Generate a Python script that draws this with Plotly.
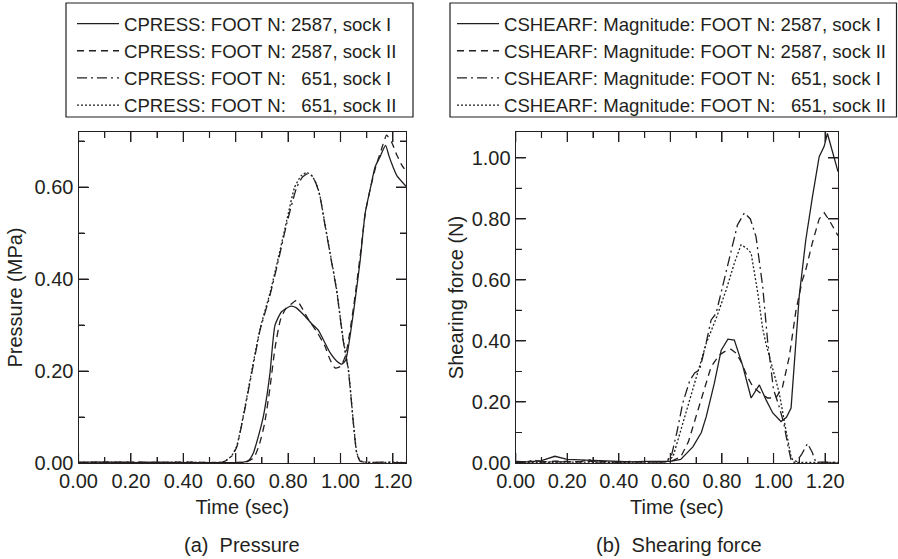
import plotly.graph_objects as go
from plotly.subplots import make_subplots

# ---- (a) Pressure (MPa) ----
t_p_2587_I = [0.0, 0.1, 0.2, 0.3, 0.4, 0.5, 0.6, 0.63, 0.65, 0.667, 0.686, 0.705, 0.72, 0.731, 0.75, 0.775,
              0.81, 0.83, 0.86, 0.89, 0.915, 0.94, 0.96, 0.985, 1.005, 1.02, 1.05, 1.075, 1.094, 1.115,
              1.132, 1.15, 1.172, 1.185, 1.195, 1.215, 1.25]
p_2587_I = [0.002, 0.002, 0.001, 0.002, 0.001, 0.001, 0.001, 0.002, 0.006, 0.021, 0.057, 0.10, 0.15, 0.196, 0.30, 0.329,
            0.341, 0.338, 0.322, 0.303, 0.289, 0.262, 0.240, 0.222, 0.215, 0.224, 0.33, 0.44, 0.543, 0.60,
            0.644, 0.665, 0.691, 0.668, 0.652, 0.625, 0.602]

t_p_2587_II = [0.0, 0.1, 0.2, 0.3, 0.4, 0.5, 0.6, 0.64, 0.67, 0.69, 0.71, 0.73, 0.75, 0.77, 0.79, 0.81, 0.833,
               0.85, 0.88, 0.91, 0.94, 0.96, 0.979, 1.0, 1.02, 1.05, 1.075, 1.095, 1.115, 1.135, 1.155,
               1.176, 1.195, 1.215, 1.234, 1.25]
p_2587_II = [0.001, 0.002, 0.002, 0.001, 0.002, 0.001, 0.001, 0.002, 0.012, 0.04, 0.085, 0.16, 0.25, 0.31, 0.335, 0.345, 0.354,
             0.34, 0.31, 0.285, 0.255, 0.225, 0.207, 0.21, 0.235, 0.34, 0.45, 0.545, 0.60, 0.645, 0.68,
             0.713, 0.698, 0.67, 0.648, 0.635]

t_p_651_I = [0.0, 0.1, 0.2, 0.3, 0.4, 0.5, 0.55, 0.566, 0.585, 0.604, 0.629, 0.661, 0.693, 0.731, 0.763, 0.795,
             0.833, 0.855, 0.877, 0.895, 0.909, 0.922, 0.94, 0.96, 0.985, 1.01, 1.03, 1.049, 1.062, 1.075,
             1.1, 1.15, 1.2, 1.25]
p_651_I = [0.001, 0.001, 0.002, 0.001, 0.001, 0.001, 0.002, 0.006, 0.015, 0.035, 0.10, 0.195, 0.289, 0.365, 0.441, 0.521,
           0.60, 0.622, 0.630, 0.622, 0.604, 0.579, 0.52, 0.456, 0.376, 0.267, 0.202, 0.087, 0.021, 0.004,
           0.001, 0.002, 0.001, 0.001]

t_p_651_II = [0.0, 0.1, 0.2, 0.3, 0.4, 0.5, 0.55, 0.566, 0.585, 0.604, 0.629, 0.661, 0.693, 0.731, 0.763, 0.795,
              0.825, 0.85, 0.872, 0.892, 0.909, 0.922, 0.94, 0.96, 0.985, 1.01, 1.03, 1.049, 1.062, 1.075,
              1.1, 1.15, 1.2, 1.25]
p_651_II = [0.001, 0.002, 0.001, 0.001, 0.002, 0.001, 0.002, 0.007, 0.016, 0.037, 0.103, 0.2, 0.292, 0.37, 0.447, 0.528,
            0.60, 0.625, 0.632, 0.624, 0.606, 0.58, 0.522, 0.458, 0.378, 0.27, 0.204, 0.09, 0.023, 0.005,
            0.002, 0.001, 0.002, 0.001]

# ---- (b) Shearing force (N) ----
t_s_2587_I = [0.0, 0.05, 0.1, 0.152, 0.2, 0.25, 0.3, 0.35, 0.4, 0.45, 0.5, 0.55, 0.6, 0.64, 0.687, 0.72, 0.739,
              0.77, 0.797, 0.823, 0.848, 0.88, 0.913, 0.945, 0.971, 0.997, 1.029, 1.05, 1.068, 1.10, 1.125,
              1.151, 1.177, 1.196, 1.209, 1.25]
s_2587_I = [0.005, 0.004, 0.008, 0.022, 0.012, 0.01, 0.008, 0.007, 0.005, 0.004, 0.005, 0.004, 0.005, 0.012, 0.053, 0.10, 0.152,
            0.26, 0.37, 0.406, 0.403, 0.32, 0.213, 0.256, 0.207, 0.164, 0.136, 0.15, 0.18, 0.55, 0.731,
            0.873, 1.004, 1.037, 1.08, 0.955]

t_s_2587_II = [0.0, 0.05, 0.1, 0.15, 0.2, 0.25, 0.3, 0.35, 0.4, 0.45, 0.5, 0.55, 0.6, 0.64, 0.67, 0.70, 0.73, 0.758,
               0.79, 0.81, 0.835, 0.855, 0.874, 0.90, 0.92, 0.95, 0.977, 1.009, 1.035, 1.061, 1.087, 1.112,
               1.125, 1.15, 1.177, 1.197, 1.22, 1.25]
s_2587_II = [0.003, 0.005, 0.004, 0.006, 0.005, 0.004, 0.006, 0.004, 0.003, 0.005, 0.004, 0.003, 0.005, 0.02, 0.07, 0.152, 0.24, 0.316,
             0.354, 0.365, 0.373, 0.36, 0.332, 0.28, 0.25, 0.228, 0.213, 0.213, 0.25, 0.348, 0.50, 0.60,
             0.633, 0.72, 0.80, 0.82, 0.79, 0.745]

t_s_651_I = [0.0, 0.04, 0.07, 0.1, 0.15, 0.2, 0.25, 0.28, 0.31, 0.35, 0.4, 0.45, 0.5, 0.55, 0.58, 0.603, 0.625, 0.648,
             0.675, 0.694, 0.713, 0.735, 0.758, 0.777, 0.80, 0.829, 0.86, 0.887, 0.91, 0.932, 0.958, 0.977,
             0.99, 1.0, 1.02, 1.04, 1.055, 1.068, 1.09, 1.11, 1.132, 1.15, 1.164, 1.2, 1.25]
s_651_I = [0.002, 0.003, 0.01, 0.003, 0.004, 0.003, 0.004, 0.012, 0.004, 0.003, 0.004, 0.003, 0.004, 0.003, 0.005, 0.02, 0.10, 0.197,
           0.27, 0.295, 0.305, 0.38, 0.469, 0.49, 0.57, 0.676, 0.78, 0.82, 0.80, 0.742, 0.578, 0.40,
           0.30, 0.24, 0.19, 0.13, 0.06, 0.01, 0.005, 0.03, 0.064, 0.035, 0.003, 0.002, 0.002]

t_s_651_II = [0.0, 0.1, 0.2, 0.3, 0.4, 0.5, 0.58, 0.61, 0.674, 0.739, 0.78, 0.816, 0.85, 0.874, 0.895, 0.913, 0.939,
              0.958, 0.971, 1.0, 1.022, 1.048, 1.068, 1.08, 1.15, 1.25]
s_651_II = [0.002, 0.003, 0.002, 0.003, 0.002, 0.003, 0.004, 0.02, 0.207, 0.392, 0.48, 0.567, 0.66, 0.715, 0.705, 0.688, 0.557,
            0.44, 0.39, 0.30, 0.23, 0.108, 0.02, 0.002, 0.002, 0.002]

# tick positions (major every 0.2, minor every 0.1)
x_tick_vals = [0.0, 0.1, 0.2, 0.3, 0.4, 0.5, 0.6, 0.7, 0.8, 0.9, 1.0, 1.1, 1.2]
y_tick_vals_p = [0.0, 0.1, 0.2, 0.3, 0.4, 0.5, 0.6, 0.7]
y_tick_vals_s = [0.0, 0.1, 0.2, 0.3, 0.4, 0.5, 0.6, 0.7, 0.8, 0.9, 1.0]

series_p = [
    ("CPRESS: FOOT N: 2587, sock I", t_p_2587_I, p_2587_I, "solid"),
    ("CPRESS: FOOT N: 2587, sock II", t_p_2587_II, p_2587_II, "7px,5px"),
    ("CPRESS: FOOT N:\u00a0\u00a0\u00a0651, sock I", t_p_651_I, p_651_I, "10px,4px,2px,4px"),
    ("CPRESS: FOOT N:\u00a0\u00a0\u00a0651, sock II", t_p_651_II, p_651_II, "2px,2px"),
]
series_s = [
    ("CSHEARF: Magnitude: FOOT N: 2587, sock I", t_s_2587_I, s_2587_I, "solid"),
    ("CSHEARF: Magnitude: FOOT N: 2587, sock II", t_s_2587_II, s_2587_II, "7px,5px"),
    ("CSHEARF: Magnitude: FOOT N:\u00a0\u00a0\u00a0651, sock I", t_s_651_I, s_651_I, "10px,4px,2px,4px"),
    ("CSHEARF: Magnitude: FOOT N:\u00a0\u00a0\u00a0651, sock II", t_s_651_II, s_651_II, "2px,2px"),
]

FONT = "Liberation Sans, Arial, Helvetica, sans-serif"
INK = "#231f20"
W, H = 898, 559
X_MAX, YP_MAX, YS_MAX = 1.25, 0.72, 1.085

# axes boxes in pixels of the original figure
XDOM_P = [78.5, 406.0]
XDOM_S = [515.7, 838.0]
YDOM = [132.0, 463.0]

fig = make_subplots(rows=1, cols=2)

for i, (name, t, v, dash) in enumerate(series_p):
    fig.add_trace(go.Scatter(x=t, y=v, mode="lines", name=name, legend="legend",
                             line=dict(color=INK, width=1.3, dash=dash, shape="spline", smoothing=0.5)),
                  row=1, col=1)
for i, (name, t, v, dash) in enumerate(series_s):
    fig.add_trace(go.Scatter(x=t, y=v, mode="lines", name=name, legend="legend2",
                             line=dict(color=INK, width=1.3, dash=dash)),
                  row=1, col=2)


def is_major(v):
    return abs(v / 0.2 - round(v / 0.2)) < 1e-6


# inside tick marks on all four sides, as short segments in data units (10px major, 6px minor)
def add_tick_marks(col, xdom, ymax, yvals):
    dx = X_MAX / (xdom[1] - xdom[0])      # data units per pixel
    dy = ymax / (YDOM[1] - YDOM[0])
    xs, ys = [], []
    for v in x_tick_vals:
        n = 10 if is_major(v) else 6
        xs += [v, v, None, v, v, None]
        ys += [0, n * dy, None, ymax, ymax - n * dy, None]
    for v in yvals:
        n = 10 if is_major(v) else 6
        xs += [0, n * dx, None, X_MAX, X_MAX - n * dx, None]
        ys += [v, v, None, v, v, None]
    fig.add_trace(go.Scatter(x=xs, y=ys, mode="lines", showlegend=False, hoverinfo="skip",
                             line=dict(color=INK, width=1.2)), row=1, col=col)


add_tick_marks(1, XDOM_P, YP_MAX, y_tick_vals_p)
add_tick_marks(2, XDOM_S, YS_MAX, y_tick_vals_s)


# axis frame, labels every 0.2
def axis(rng, title, standoff):
    return dict(range=rng, title=dict(text=title, standoff=standoff, font=dict(family=FONT, size=20, color=INK)),
                showline=True, linecolor=INK, linewidth=1.2, mirror="allticks",
                ticks="inside", ticklen=10, tickwidth=1.2, tickcolor=INK,
                tick0=0, dtick=0.2, tickformat=".2f", tickfont=dict(family=FONT, size=20, color=INK),
                minor=dict(ticks="inside", ticklen=6, dtick=0.1, tickcolor=INK),
                showgrid=False, zeroline=False, automargin=False)


fig.update_xaxes(axis([0, X_MAX], "Time (sec)", 8), row=1, col=1)
fig.update_xaxes(axis([0, X_MAX], "Time (sec)", 8), row=1, col=2)
fig.update_yaxes(axis([0, YP_MAX], "Pressure (MPa)", 6), row=1, col=1)
fig.update_yaxes(axis([0, YS_MAX], "Shearing force (N)", 2), row=1, col=2)

fig.update_xaxes(domain=[XDOM_P[0] / W, XDOM_P[1] / W], row=1, col=1)
fig.update_xaxes(domain=[XDOM_S[0] / W, XDOM_S[1] / W], row=1, col=2)
fig.update_yaxes(domain=[1 - YDOM[1] / H, 1 - YDOM[0] / H])

leg = dict(bgcolor="rgba(0,0,0,0)", borderwidth=0, font=dict(family=FONT, size=18.6, color=INK),
           xanchor="left", yanchor="top", tracegroupgap=0, itemwidth=42)
box = dict(type="rect", xref="paper", yref="paper", line=dict(color=INK, width=1.2), fillcolor="rgba(0,0,0,0)")

fig.update_layout(
    template="none",
    width=W, height=H, margin=dict(l=0, r=0, t=0, b=0, autoexpand=False),
    showlegend=True,
    legend=dict(leg, x=72 / W, y=1 - 5 / H),
    legend2=dict(leg, x=452 / W, y=1 - 5 / H),
    shapes=[
        dict(box, x0=66 / W, x1=413 / W, y0=1 - 117 / H, y1=1 - 3 / H),
        dict(box, x0=450 / W, x1=896.5 / W, y0=1 - 117 / H, y1=1 - 3 / H),
    ],
    annotations=[
        dict(text="(a)\u00a0\u00a0Pressure", x=242 / W, y=1 - 545 / H, xref="paper", yref="paper",
             xanchor="center", yanchor="middle", showarrow=False, font=dict(family=FONT, size=20, color=INK)),
        dict(text="(b)\u00a0\u00a0Shearing force", x=679 / W, y=1 - 545 / H, xref="paper", yref="paper",
             xanchor="center", yanchor="middle", showarrow=False, font=dict(family=FONT, size=20, color=INK)),
    ],
)

# page body has an 8px default margin, drop it so the figure sits at the window corner
fig.write_html("out.html", config={"displayModeBar": False},
               post_script="document.body.style.margin='0';")
